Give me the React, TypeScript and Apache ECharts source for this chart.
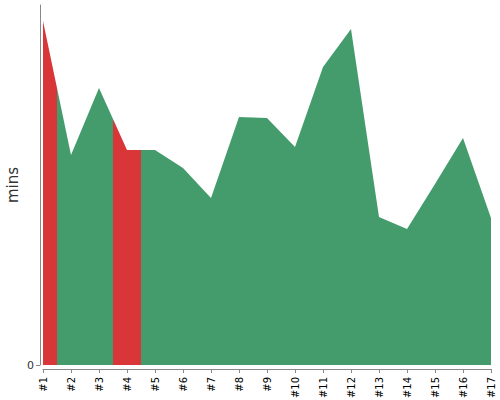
import React, { useEffect, useRef } from "react";
import * as echarts from "echarts";

const categories = ["#1", "#2", "#3", "#4", "#5", "#6", "#7", "#8", "#9", "#10", "#11", "#12", "#13", "#14", "#15", "#16", "#17"];
const minutes = [344, 210, 277, 215, 215, 197, 167, 248, 247, 218, 298, 336, 148, 136, 181, 227, 147];
const highlighted = ["#1", "#4"];
const yTicks = [0];

const GREEN = "#449c6d";
const RED = "#d83638";

export default function App() {
  const ref = useRef<HTMLDivElement>(null);
  useEffect(() => {
    if (!ref.current) return;
    const chart = echarts.init(ref.current, null, { renderer: "svg" });
    const pieces: any[] = [];
    const idx = highlighted.map((c) => categories.indexOf(c)).sort((a, b) => a - b);
    let prev = -Infinity;
    idx.forEach((i) => {
      pieces.push({ gt: prev, lte: i - 0.5, color: GREEN });
      pieces.push({ gt: i - 0.5, lte: i + 0.5, color: RED });
      prev = i + 0.5;
    });
    pieces.push({ gt: prev, color: GREEN });
    chart.setOption({
      animation: false,
      grid: { left: 43, right: 9, top: 5, bottom: 35, outerBoundsMode: "none", containLabel: false },
      xAxis: {
        type: "value",
        min: 0,
        max: categories.length - 1,
        interval: 1,
        offset: 4,
        axisLine: { show: true, onZero: false, lineStyle: { color: "#888", width: 1 } },
        axisTick: { show: true, length: 4, lineStyle: { color: "#888" } },
        axisLabel: {
          rotate: 90,
          fontSize: 10,
          color: "#000",
          margin: 8,
          showMinLabel: true,
          showMaxLabel: true,
          fontFamily: "DejaVu Sans",
          formatter: (v: number) => categories[Math.round(v)] ?? "",
        },
        splitLine: { show: false },
      },
      yAxis: {
        type: "value",
        min: 0,
        max: 360,
        offset: 3,
        name: "mins",
        nameLocation: "middle",
        nameGap: 20,
        nameMoveOverlap: false,
        nameRotate: 90,
        nameTextStyle: { fontSize: 15, color: "#333", fontFamily: "DejaVu Sans" },
        axisLine: { show: true, onZero: false, lineStyle: { color: "#888", width: 1 } },
        axisTick: { show: true, length: 4, lineStyle: { color: "#888" }, customValues: yTicks },
        axisLabel: { fontSize: 11, color: "#333", margin: 6, customValues: yTicks, fontFamily: "DejaVu Sans" },
        splitLine: { show: false },
      },
      visualMap: {
        type: "piecewise",
        show: false,
        dimension: 0,
        seriesIndex: 0,
        pieces,
      },
      series: [
        {
          type: "line",
          data: minutes.map((v, i) => [i, v]),
          symbol: "none",
          lineStyle: { width: 0 },
          areaStyle: { opacity: 1 },
        },
      ],
    });
    return () => chart.dispose();
  }, []);
  return <div ref={ref} style={{ width: 500, height: 400, position: "absolute", left: 0, top: 0 }} />;
}
